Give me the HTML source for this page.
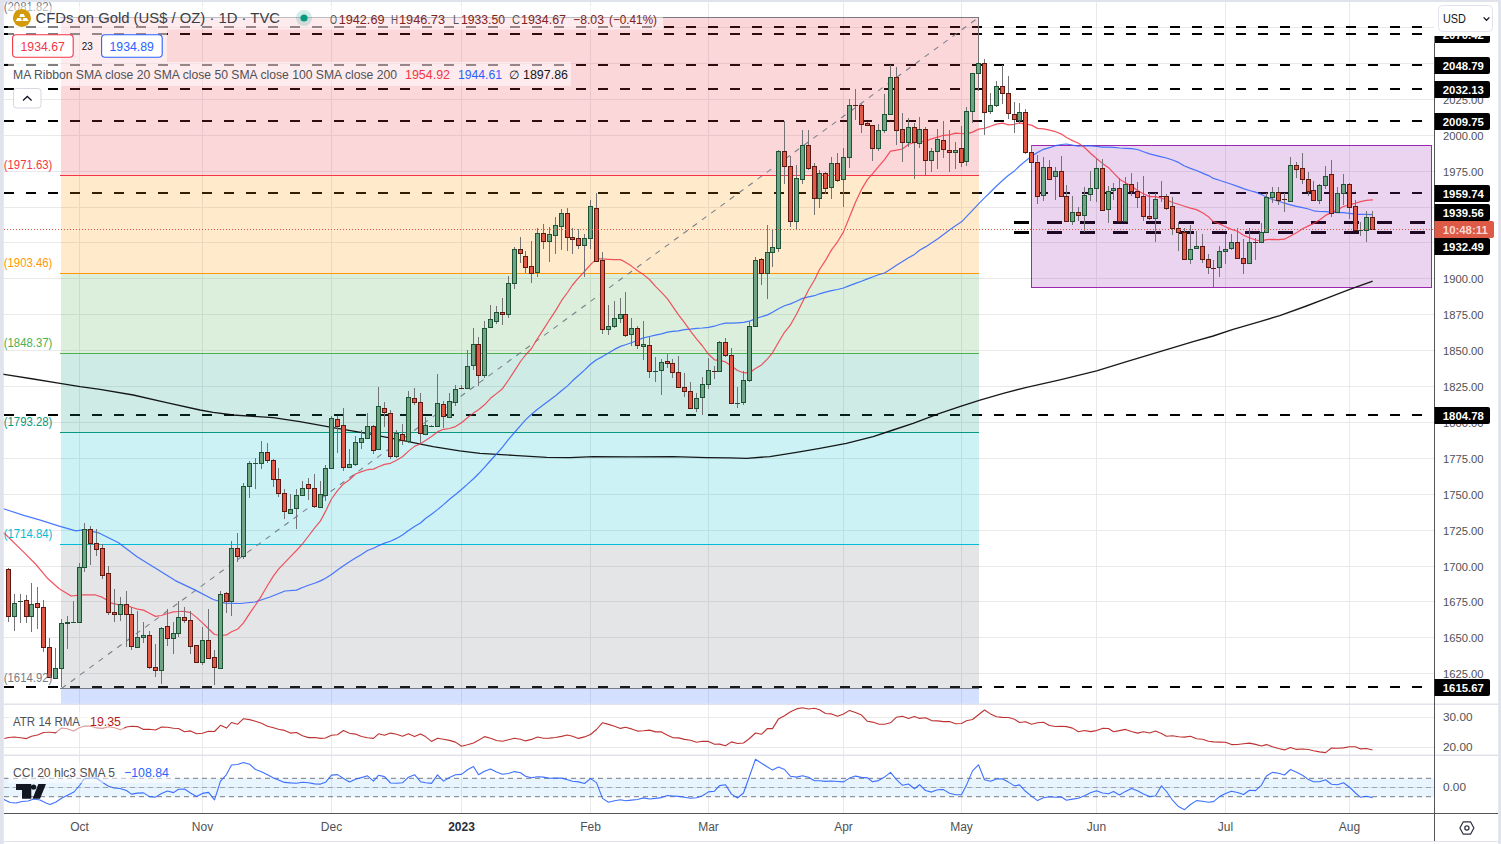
<!DOCTYPE html>
<html><head><meta charset="utf-8"><title>Gold chart</title>
<style>
html,body{margin:0;padding:0;background:#fff;}
body{width:1501px;height:844px;overflow:hidden;font-family:"Liberation Sans",sans-serif;}
svg{display:block;position:absolute;left:0;top:0;}
text{font-family:"Liberation Sans",sans-serif;}
</style></head><body>
<svg width="1501" height="844" viewBox="0 0 1501 844" shape-rendering="auto">

<rect x="0" y="0" width="1501" height="844" fill="#e0e3eb"/>
<path d="M3.8 5 Q3.8 1.9 7 1.9 H1494.2 Q1498.2 1.9 1498.2 6 V844 H3.8 Z" fill="#ffffff"/>
<rect x="3.8" y="841" width="1494.4" height="1" fill="#e0e3eb"/>
<g id="grid" stroke="#e9e9ea" stroke-width="1" shape-rendering="crispEdges">
<line x1="79.5" y1="2" x2="79.5" y2="813"/>
<line x1="202.5" y1="2" x2="202.5" y2="813"/>
<line x1="331.5" y1="2" x2="331.5" y2="813"/>
<line x1="461.5" y1="2" x2="461.5" y2="813"/>
<line x1="590.5" y1="2" x2="590.5" y2="813"/>
<line x1="708.5" y1="2" x2="708.5" y2="813"/>
<line x1="843.5" y1="2" x2="843.5" y2="813"/>
<line x1="961.5" y1="2" x2="961.5" y2="813"/>
<line x1="1096.5" y1="2" x2="1096.5" y2="813"/>
<line x1="1225.5" y1="2" x2="1225.5" y2="813"/>
<line x1="1349.5" y1="2" x2="1349.5" y2="813"/>
<line x1="4" y1="27.5" x2="1434" y2="27.5"/>
<line x1="4" y1="63.5" x2="1434" y2="63.5"/>
<line x1="4" y1="99.5" x2="1434" y2="99.5"/>
<line x1="4" y1="135.5" x2="1434" y2="135.5"/>
<line x1="4" y1="171.5" x2="1434" y2="171.5"/>
<line x1="4" y1="207.5" x2="1434" y2="207.5"/>
<line x1="4" y1="242.5" x2="1434" y2="242.5"/>
<line x1="4" y1="278.5" x2="1434" y2="278.5"/>
<line x1="4" y1="314.5" x2="1434" y2="314.5"/>
<line x1="4" y1="350.5" x2="1434" y2="350.5"/>
<line x1="4" y1="386.5" x2="1434" y2="386.5"/>
<line x1="4" y1="422.5" x2="1434" y2="422.5"/>
<line x1="4" y1="458.5" x2="1434" y2="458.5"/>
<line x1="4" y1="494.5" x2="1434" y2="494.5"/>
<line x1="4" y1="530.5" x2="1434" y2="530.5"/>
<line x1="4" y1="566.5" x2="1434" y2="566.5"/>
<line x1="4" y1="601.5" x2="1434" y2="601.5"/>
<line x1="4" y1="637.5" x2="1434" y2="637.5"/>
<line x1="4" y1="673.5" x2="1434" y2="673.5"/>
<line x1="4" y1="717.5" x2="1434" y2="717.5"/>
<line x1="4" y1="747.5" x2="1434" y2="747.5"/>
<line x1="4" y1="787.5" x2="1434" y2="787.5"/>
</g>
<g id="hlines" stroke="#000" stroke-width="2" stroke-dasharray="10 12" shape-rendering="crispEdges">
<line x1="4.3" y1="27" x2="1434" y2="27"/>
<line x1="4.3" y1="34" x2="1434" y2="34"/>
<line x1="4.3" y1="65" x2="1434" y2="65"/>
<line x1="4.3" y1="89" x2="1434" y2="89"/>
<line x1="4.3" y1="121" x2="1434" y2="121"/>
<line x1="4.3" y1="193" x2="1434" y2="193"/>
<line x1="4.3" y1="415" x2="1434" y2="415"/>
<line x1="4.3" y1="687" x2="1434" y2="687"/>
</g>
<g id="fib">
<rect x="61.0" y="17.50" width="918.0" height="158.00" fill="#f23645" fill-opacity="0.2"/>
<rect x="61.0" y="175.50" width="918.0" height="98.00" fill="#ff9800" fill-opacity="0.2"/>
<rect x="61.0" y="273.50" width="918.0" height="80.00" fill="#4caf50" fill-opacity="0.2"/>
<rect x="61.0" y="353.50" width="918.0" height="79.00" fill="#089981" fill-opacity="0.2"/>
<rect x="61.0" y="432.50" width="918.0" height="112.00" fill="#00bcd4" fill-opacity="0.2"/>
<rect x="61.0" y="544.50" width="918.0" height="144.00" fill="#787b86" fill-opacity="0.2"/>
<rect x="61.0" y="688.50" width="918.0" height="15.50" fill="#2962ff" fill-opacity="0.2"/>
<line x1="60.0" y1="17.50" x2="979.0" y2="17.50" stroke="#787b86" stroke-width="1" shape-rendering="crispEdges"/>
<line x1="60.0" y1="175.50" x2="979.0" y2="175.50" stroke="#f23645" stroke-width="1" shape-rendering="crispEdges"/>
<line x1="60.0" y1="273.50" x2="979.0" y2="273.50" stroke="#ff9800" stroke-width="1" shape-rendering="crispEdges"/>
<line x1="60.0" y1="353.50" x2="979.0" y2="353.50" stroke="#4caf50" stroke-width="1" shape-rendering="crispEdges"/>
<line x1="60.0" y1="432.50" x2="979.0" y2="432.50" stroke="#089981" stroke-width="1" shape-rendering="crispEdges"/>
<line x1="60.0" y1="544.50" x2="979.0" y2="544.50" stroke="#00bcd4" stroke-width="1" shape-rendering="crispEdges"/>
<line x1="60.0" y1="688.50" x2="979.0" y2="688.50" stroke="#787b86" stroke-width="1" shape-rendering="crispEdges"/>
<line x1="61.5" y1="688.50" x2="978.5" y2="17.50" stroke="#79808a" stroke-width="1.08" stroke-dasharray="5.5 6"/>
</g>
<g stroke="#e0e3eb" stroke-width="1.6"><line x1="4" y1="704.3" x2="1498" y2="704.3"/><line x1="4" y1="755.3" x2="1498" y2="755.3"/></g>
<rect x="4" y="778.3" width="1430" height="18.4" fill="#2196f3" fill-opacity="0.1"/>
<g stroke="#787b86" stroke-width="1" stroke-dasharray="5 4"><line x1="4" y1="778.3" x2="1434" y2="778.3"/><line x1="4" y1="787.5" x2="1434" y2="787.5" stroke-opacity="0.6"/><line x1="4" y1="796.7" x2="1434" y2="796.7"/></g>
<g stroke="#000" stroke-width="3" stroke-dasharray="15 18" shape-rendering="crispEdges">
<line x1="1014" y1="222.5" x2="1434" y2="222.5"/>
<line x1="1014" y1="232.5" x2="1434" y2="232.5"/>
</g>
<rect x="1031.5" y="145.5" width="400" height="142" fill="#9c27b0" fill-opacity="0.2" stroke="#9c27b0" stroke-width="1" shape-rendering="crispEdges"/>
<g fill="none" stroke-linejoin="round" stroke-linecap="round">
<path d="M4.0 374.3 L33.3 379.0 L60.0 383.3 L80.0 386.6 L100.0 389.3 L133.2 395.0 L166.6 402.6 L199.9 410.0 L213.2 412.3 L233.2 415.0 L253.2 416.3 L273.2 417.6 L299.8 421.6 L333.1 427.6 L366.4 433.3 L399.7 439.9 L433.0 446.6 L459.7 450.9 L480.0 453.3 L513.3 455.3 L546.6 457.3 L569.9 457.6 L593.3 456.6 L629.9 456.9 L673.2 456.6 L706.5 457.6 L729.8 457.9 L746.5 458.3 L769.8 456.6 L796.5 452.3 L819.8 448.3 L846.4 443.3 L873.1 436.6 L893.1 430.0 L913.1 423.3 L939.7 413.3 L959.7 406.6 L980.0 400.2 L1003.3 393.3 L1026.6 387.3 L1059.9 379.9 L1096.6 370.9 L1126.6 361.6 L1159.9 351.6 L1193.2 341.6 L1213.2 336.0 L1233.1 329.3 L1259.8 321.6 L1279.8 315.6 L1306.4 306.0 L1326.4 298.3 L1349.7 289.3 L1372.1 281.3" stroke="#000" stroke-width="1.35" stroke-opacity="0.9"/>
<path d="M4.3 509.0 L23.7 515.4 L40.3 520.1 L59.2 526.1 L75.8 530.8 L85.3 529.6 L99.5 533.2 L118.5 542.7 L137.4 556.9 L156.4 568.7 L175.3 580.6 L194.3 589.6 L213.3 599.5 L225.1 603.1 L240.0 603.5 L255.0 602.0 L270.0 597.0 L285.0 591.0 L296.5 590.1 L302.5 587.5 L308.5 585.2 L314.5 583.3 L320.5 580.9 L325.5 578.2 L331.5 574.4 L337.5 570.0 L343.5 565.8 L349.5 561.7 L355.5 558.1 L361.5 554.4 L367.5 550.5 L373.5 548.2 L378.5 545.7 L384.5 543.1 L390.5 541.2 L396.5 538.4 L402.5 535.0 L408.5 530.6 L414.5 526.6 L420.5 523.0 L425.5 518.5 L431.5 514.3 L437.5 509.6 L443.5 504.6 L449.5 499.2 L455.5 494.5 L461.5 489.5 L467.5 484.1 L473.5 478.7 L478.5 473.8 L484.5 467.4 L490.5 460.5 L496.5 454.0 L502.5 447.1 L508.5 439.4 L514.5 432.5 L520.5 425.6 L525.5 419.9 L531.5 414.3 L537.5 409.2 L543.5 404.8 L549.5 400.2 L555.5 395.7 L561.5 390.7 L567.5 385.9 L572.5 380.8 L578.5 375.5 L584.5 370.1 L590.5 364.3 L596.5 359.7 L602.5 356.6 L608.5 353.0 L614.5 349.4 L620.5 346.4 L625.5 344.7 L631.5 342.7 L637.5 340.3 L643.5 337.9 L649.5 336.5 L655.5 335.1 L661.5 333.9 L667.5 332.1 L672.5 331.4 L678.5 330.9 L684.5 329.6 L690.5 329.2 L696.5 328.3 L702.5 328.0 L708.5 327.4 L714.5 326.2 L719.5 324.5 L725.5 323.1 L731.5 323.1 L737.5 322.8 L743.5 322.4 L749.5 321.2 L755.5 318.6 L761.5 316.7 L767.5 314.9 L772.5 312.3 L778.5 308.8 L784.5 305.7 L790.5 303.9 L796.5 301.2 L802.5 298.4 L808.5 296.8 L814.5 295.7 L819.5 293.8 L825.5 292.1 L831.5 290.7 L837.5 289.5 L843.5 288.0 L849.5 285.6 L855.5 283.4 L861.5 281.2 L867.5 278.9 L872.5 277.0 L878.5 274.8 L884.5 273.0 L890.5 269.3 L896.5 265.3 L902.5 261.6 L908.5 257.8 L914.5 254.4 L919.5 250.2 L925.5 246.9 L931.5 243.0 L937.5 238.9 L943.5 234.5 L949.5 230.1 L955.5 225.8 L961.5 221.8 L966.5 216.6 L972.5 210.3 L978.5 203.8 L984.5 197.8 L990.5 192.0 L996.5 186.0 L1002.5 180.5 L1008.5 175.3 L1014.5 170.9 L1019.5 166.0 L1025.5 161.0 L1031.5 156.2 L1037.5 152.5 L1043.5 149.3 L1049.5 147.7 L1055.5 145.6 L1061.5 144.5 L1066.5 144.0 L1072.5 145.2 L1078.5 146.2 L1084.5 145.7 L1090.5 145.9 L1096.5 146.3 L1102.5 147.2 L1108.5 147.1 L1113.5 147.4 L1119.5 148.0 L1125.5 148.4 L1131.5 148.7 L1137.5 149.5 L1143.5 151.7 L1149.5 153.9 L1155.5 155.4 L1161.5 156.8 L1166.5 158.0 L1172.5 160.0 L1178.5 162.4 L1184.5 166.0 L1190.5 168.4 L1196.5 170.5 L1202.5 173.1 L1208.5 175.6 L1213.5 178.4 L1219.5 180.2 L1225.5 182.2 L1231.5 184.2 L1237.5 186.4 L1243.5 188.6 L1249.5 190.5 L1255.5 192.1 L1261.5 194.5 L1266.5 197.0 L1272.5 199.5 L1278.5 201.3 L1284.5 203.2 L1290.5 204.8 L1296.5 206.3 L1302.5 207.6 L1308.5 209.0 L1313.5 210.8 L1319.5 211.5 L1325.5 211.7 L1331.5 212.1 L1337.5 212.6 L1343.5 212.7 L1349.5 213.4 L1355.5 214.1 L1360.5 214.3 L1366.5 214.4 L1372.5 214.7" stroke="#2962ff" stroke-width="1.2" stroke-opacity="0.85"/>
<path d="M4.3 533.2 L23.7 552.1 L35.5 564.0 L47.4 578.2 L59.2 588.8 L71.1 596.0 L82.9 594.8 L94.8 594.8 L101.9 597.1 L111.4 603.1 L120.5 605.2 L126.5 605.1 L131.5 607.3 L137.5 609.1 L143.5 610.1 L149.5 613.2 L155.5 616.4 L161.5 615.5 L167.5 613.5 L173.5 611.8 L178.5 611.5 L184.5 611.4 L190.5 612.6 L196.5 617.4 L202.5 622.9 L208.5 628.7 L214.5 634.5 L220.5 635.5 L226.5 634.9 L231.5 631.7 L237.5 629.3 L243.5 622.8 L249.5 613.7 L255.5 605.0 L261.5 595.8 L267.5 585.5 L273.5 575.9 L278.5 569.2 L284.5 562.8 L290.5 556.6 L296.5 550.5 L302.5 543.9 L308.5 536.0 L314.5 528.2 L320.5 520.9 L325.5 511.4 L331.5 499.0 L337.5 490.6 L343.5 483.9 L349.5 479.7 L355.5 474.0 L361.5 471.6 L367.5 469.7 L373.5 469.1 L378.5 466.8 L384.5 464.4 L390.5 463.3 L396.5 460.2 L402.5 456.7 L408.5 451.1 L414.5 446.4 L420.5 443.7 L425.5 440.5 L431.5 436.5 L437.5 431.9 L443.5 429.3 L449.5 428.5 L455.5 426.6 L461.5 422.7 L467.5 417.8 L473.5 412.9 L478.5 409.7 L484.5 404.8 L490.5 398.3 L496.5 393.6 L502.5 388.7 L508.5 380.0 L514.5 370.8 L520.5 361.5 L525.5 355.0 L531.5 348.5 L537.5 338.5 L543.5 329.3 L549.5 319.8 L555.5 310.9 L561.5 300.7 L567.5 292.5 L572.5 285.0 L578.5 277.9 L584.5 271.5 L590.5 264.6 L596.5 258.9 L602.5 258.9 L608.5 259.3 L614.5 259.6 L620.5 259.6 L625.5 262.2 L631.5 266.1 L637.5 270.8 L643.5 274.6 L649.5 279.5 L655.5 286.4 L661.5 292.4 L667.5 298.9 L672.5 306.2 L678.5 314.9 L684.5 322.7 L690.5 331.1 L696.5 338.8 L702.5 346.0 L708.5 354.3 L714.5 359.8 L719.5 360.4 L725.5 361.9 L731.5 366.1 L737.5 370.5 L743.5 372.8 L749.5 372.7 L755.5 368.4 L761.5 364.9 L767.5 358.9 L772.5 352.8 L778.5 342.2 L784.5 332.3 L790.5 324.8 L796.5 314.3 L802.5 302.0 L808.5 290.0 L814.5 280.0 L819.5 269.5 L825.5 260.4 L831.5 249.9 L837.5 241.8 L843.5 231.9 L849.5 217.0 L855.5 202.2 L861.5 189.4 L867.5 179.4 L872.5 173.8 L878.5 166.6 L884.5 159.7 L890.5 151.2 L896.5 150.2 L902.5 149.0 L908.5 144.3 L914.5 142.5 L919.5 141.7 L925.5 141.3 L931.5 138.9 L937.5 137.2 L943.5 135.3 L949.5 134.8 L955.5 133.2 L961.5 133.5 L966.5 133.8 L972.5 132.1 L978.5 129.1 L984.5 128.4 L990.5 126.3 L996.5 124.1 L1002.5 123.1 L1008.5 124.9 L1014.5 124.3 L1019.5 122.8 L1025.5 124.1 L1031.5 125.1 L1037.5 128.4 L1043.5 128.8 L1049.5 130.2 L1055.5 131.7 L1061.5 134.1 L1066.5 137.5 L1072.5 140.6 L1078.5 143.3 L1084.5 147.5 L1090.5 153.2 L1096.5 158.5 L1102.5 163.4 L1108.5 167.7 L1113.5 172.8 L1119.5 179.2 L1125.5 182.7 L1131.5 186.3 L1137.5 190.6 L1143.5 193.8 L1149.5 196.6 L1155.5 196.7 L1161.5 198.2 L1166.5 199.7 L1172.5 202.5 L1178.5 204.3 L1184.5 206.3 L1190.5 208.1 L1196.5 209.6 L1202.5 212.8 L1208.5 216.8 L1213.5 221.8 L1219.5 223.9 L1225.5 226.7 L1231.5 229.4 L1237.5 231.3 L1243.5 235.2 L1249.5 237.8 L1255.5 240.0 L1261.5 240.8 L1266.5 239.7 L1272.5 239.4 L1278.5 239.6 L1284.5 239.2 L1290.5 236.0 L1296.5 232.8 L1302.5 228.8 L1308.5 225.9 L1313.5 223.6 L1319.5 219.9 L1325.5 215.4 L1331.5 212.6 L1337.5 209.7 L1343.5 206.5 L1349.5 204.7 L1355.5 203.3 L1360.5 201.6 L1366.5 200.4 L1372.5 199.8" stroke="#f23645" stroke-width="1.2" stroke-opacity="0.85"/>
</g>
<g id="candles" shape-rendering="crispEdges">
<g stroke="#737375" stroke-width="1"><line x1="8.5" y1="568" x2="8.5" y2="622"/><line x1="14.5" y1="594" x2="14.5" y2="631"/><line x1="20.5" y1="594" x2="20.5" y2="623"/><line x1="26.5" y1="595" x2="26.5" y2="623"/><line x1="31.5" y1="583" x2="31.5" y2="632"/><line x1="37.5" y1="587" x2="37.5" y2="629"/><line x1="43.5" y1="600" x2="43.5" y2="652"/><line x1="49.5" y1="638" x2="49.5" y2="678"/><line x1="55.5" y1="648" x2="55.5" y2="679"/><line x1="61.5" y1="619" x2="61.5" y2="687"/><line x1="67.5" y1="616" x2="67.5" y2="649"/><line x1="73.5" y1="601" x2="73.5" y2="623"/><line x1="79.5" y1="563" x2="79.5" y2="623"/><line x1="84.5" y1="523" x2="84.5" y2="572"/><line x1="90.5" y1="526" x2="90.5" y2="565"/><line x1="96.5" y1="529" x2="96.5" y2="556"/><line x1="102.5" y1="544" x2="102.5" y2="579"/><line x1="108.5" y1="566" x2="108.5" y2="615"/><line x1="114.5" y1="589" x2="114.5" y2="622"/><line x1="120.5" y1="597" x2="120.5" y2="621"/><line x1="126.5" y1="591" x2="126.5" y2="647"/><line x1="131.5" y1="607" x2="131.5" y2="650"/><line x1="137.5" y1="611" x2="137.5" y2="648"/><line x1="143.5" y1="622" x2="143.5" y2="643"/><line x1="149.5" y1="631" x2="149.5" y2="669"/><line x1="155.5" y1="644" x2="155.5" y2="677"/><line x1="161.5" y1="627" x2="161.5" y2="684"/><line x1="167.5" y1="609" x2="167.5" y2="646"/><line x1="173.5" y1="622" x2="173.5" y2="654"/><line x1="178.5" y1="601" x2="178.5" y2="637"/><line x1="184.5" y1="607" x2="184.5" y2="623"/><line x1="190.5" y1="611" x2="190.5" y2="654"/><line x1="196.5" y1="645" x2="196.5" y2="663"/><line x1="202.5" y1="627" x2="202.5" y2="665"/><line x1="208.5" y1="609" x2="208.5" y2="659"/><line x1="214.5" y1="650" x2="214.5" y2="685"/><line x1="220.5" y1="591" x2="220.5" y2="669"/><line x1="226.5" y1="592" x2="226.5" y2="613"/><line x1="231.5" y1="541" x2="231.5" y2="616"/><line x1="237.5" y1="533" x2="237.5" y2="562"/><line x1="243.5" y1="483" x2="243.5" y2="559"/><line x1="249.5" y1="461" x2="249.5" y2="498"/><line x1="255.5" y1="458" x2="255.5" y2="489"/><line x1="261.5" y1="441" x2="261.5" y2="469"/><line x1="267.5" y1="443" x2="267.5" y2="463"/><line x1="273.5" y1="459" x2="273.5" y2="487"/><line x1="278.5" y1="468" x2="278.5" y2="497"/><line x1="284.5" y1="489" x2="284.5" y2="519"/><line x1="290.5" y1="494" x2="290.5" y2="514"/><line x1="296.5" y1="489" x2="296.5" y2="529"/><line x1="302.5" y1="481" x2="302.5" y2="496"/><line x1="308.5" y1="478" x2="308.5" y2="500"/><line x1="314.5" y1="474" x2="314.5" y2="508"/><line x1="320.5" y1="481" x2="320.5" y2="508"/><line x1="325.5" y1="465" x2="325.5" y2="501"/><line x1="331.5" y1="416" x2="331.5" y2="469"/><line x1="337.5" y1="416" x2="337.5" y2="453"/><line x1="343.5" y1="408" x2="343.5" y2="471"/><line x1="349.5" y1="449" x2="349.5" y2="468"/><line x1="355.5" y1="436" x2="355.5" y2="466"/><line x1="361.5" y1="430" x2="361.5" y2="449"/><line x1="367.5" y1="413" x2="367.5" y2="439"/><line x1="373.5" y1="425" x2="373.5" y2="454"/><line x1="378.5" y1="387" x2="378.5" y2="450"/><line x1="384.5" y1="402" x2="384.5" y2="427"/><line x1="390.5" y1="410" x2="390.5" y2="459"/><line x1="396.5" y1="430" x2="396.5" y2="458"/><line x1="402.5" y1="424" x2="402.5" y2="445"/><line x1="408.5" y1="391" x2="408.5" y2="443"/><line x1="414.5" y1="388" x2="414.5" y2="405"/><line x1="420.5" y1="393" x2="420.5" y2="443"/><line x1="425.5" y1="417" x2="425.5" y2="435"/><line x1="431.5" y1="425" x2="431.5" y2="427"/><line x1="437.5" y1="374" x2="437.5" y2="427"/><line x1="443.5" y1="401" x2="443.5" y2="428"/><line x1="449.5" y1="393" x2="449.5" y2="418"/><line x1="455.5" y1="385" x2="455.5" y2="406"/><line x1="461.5" y1="385" x2="461.5" y2="389"/><line x1="467.5" y1="350" x2="467.5" y2="389"/><line x1="473.5" y1="328" x2="473.5" y2="370"/><line x1="478.5" y1="337" x2="478.5" y2="386"/><line x1="484.5" y1="321" x2="484.5" y2="378"/><line x1="490.5" y1="305" x2="490.5" y2="328"/><line x1="496.5" y1="306" x2="496.5" y2="324"/><line x1="502.5" y1="298" x2="502.5" y2="325"/><line x1="508.5" y1="276" x2="508.5" y2="318"/><line x1="514.5" y1="247" x2="514.5" y2="289"/><line x1="520.5" y1="237" x2="520.5" y2="263"/><line x1="525.5" y1="251" x2="525.5" y2="273"/><line x1="531.5" y1="241" x2="531.5" y2="283"/><line x1="537.5" y1="228" x2="537.5" y2="277"/><line x1="543.5" y1="224" x2="543.5" y2="249"/><line x1="549.5" y1="227" x2="549.5" y2="262"/><line x1="555.5" y1="217" x2="555.5" y2="254"/><line x1="561.5" y1="209" x2="561.5" y2="250"/><line x1="567.5" y1="208" x2="567.5" y2="251"/><line x1="572.5" y1="228" x2="572.5" y2="254"/><line x1="578.5" y1="229" x2="578.5" y2="249"/><line x1="584.5" y1="234" x2="584.5" y2="277"/><line x1="590.5" y1="200" x2="590.5" y2="249"/><line x1="596.5" y1="193" x2="596.5" y2="262"/><line x1="602.5" y1="252" x2="602.5" y2="334"/><line x1="608.5" y1="305" x2="608.5" y2="335"/><line x1="614.5" y1="301" x2="614.5" y2="328"/><line x1="620.5" y1="298" x2="620.5" y2="323"/><line x1="625.5" y1="292" x2="625.5" y2="337"/><line x1="631.5" y1="318" x2="631.5" y2="346"/><line x1="637.5" y1="326" x2="637.5" y2="349"/><line x1="643.5" y1="321" x2="643.5" y2="360"/><line x1="649.5" y1="337" x2="649.5" y2="378"/><line x1="655.5" y1="357" x2="655.5" y2="382"/><line x1="661.5" y1="359" x2="661.5" y2="395"/><line x1="667.5" y1="354" x2="667.5" y2="368"/><line x1="672.5" y1="359" x2="672.5" y2="378"/><line x1="678.5" y1="356" x2="678.5" y2="388"/><line x1="684.5" y1="373" x2="684.5" y2="397"/><line x1="690.5" y1="382" x2="690.5" y2="409"/><line x1="696.5" y1="393" x2="696.5" y2="412"/><line x1="702.5" y1="377" x2="702.5" y2="415"/><line x1="708.5" y1="358" x2="708.5" y2="389"/><line x1="714.5" y1="366" x2="714.5" y2="379"/><line x1="719.5" y1="341" x2="719.5" y2="372"/><line x1="725.5" y1="338" x2="725.5" y2="357"/><line x1="731.5" y1="348" x2="731.5" y2="404"/><line x1="737.5" y1="387" x2="737.5" y2="408"/><line x1="743.5" y1="371" x2="743.5" y2="405"/><line x1="749.5" y1="321" x2="749.5" y2="382"/><line x1="755.5" y1="257" x2="755.5" y2="327"/><line x1="761.5" y1="258" x2="761.5" y2="285"/><line x1="767.5" y1="225" x2="767.5" y2="299"/><line x1="772.5" y1="230" x2="772.5" y2="267"/><line x1="778.5" y1="150" x2="778.5" y2="252"/><line x1="784.5" y1="121" x2="784.5" y2="184"/><line x1="790.5" y1="156" x2="790.5" y2="227"/><line x1="796.5" y1="165" x2="796.5" y2="229"/><line x1="802.5" y1="130" x2="802.5" y2="184"/><line x1="808.5" y1="130" x2="808.5" y2="170"/><line x1="814.5" y1="163" x2="814.5" y2="215"/><line x1="819.5" y1="170" x2="819.5" y2="208"/><line x1="825.5" y1="172" x2="825.5" y2="194"/><line x1="831.5" y1="157" x2="831.5" y2="199"/><line x1="837.5" y1="153" x2="837.5" y2="182"/><line x1="843.5" y1="148" x2="843.5" y2="207"/><line x1="849.5" y1="99" x2="849.5" y2="168"/><line x1="855.5" y1="89" x2="855.5" y2="120"/><line x1="861.5" y1="104" x2="861.5" y2="133"/><line x1="867.5" y1="122" x2="867.5" y2="126"/><line x1="872.5" y1="125" x2="872.5" y2="161"/><line x1="878.5" y1="124" x2="878.5" y2="151"/><line x1="884.5" y1="94" x2="884.5" y2="133"/><line x1="890.5" y1="65" x2="890.5" y2="115"/><line x1="896.5" y1="67" x2="896.5" y2="145"/><line x1="902.5" y1="113" x2="902.5" y2="162"/><line x1="908.5" y1="118" x2="908.5" y2="147"/><line x1="914.5" y1="123" x2="914.5" y2="179"/><line x1="919.5" y1="117" x2="919.5" y2="148"/><line x1="925.5" y1="127" x2="925.5" y2="175"/><line x1="931.5" y1="148" x2="931.5" y2="172"/><line x1="937.5" y1="129" x2="937.5" y2="169"/><line x1="943.5" y1="121" x2="943.5" y2="158"/><line x1="949.5" y1="130" x2="949.5" y2="172"/><line x1="955.5" y1="142" x2="955.5" y2="169"/><line x1="961.5" y1="126" x2="961.5" y2="167"/><line x1="966.5" y1="107" x2="966.5" y2="166"/><line x1="972.5" y1="73" x2="972.5" y2="123"/><line x1="978.5" y1="17" x2="978.5" y2="91"/><line x1="984.5" y1="59" x2="984.5" y2="135"/><line x1="990.5" y1="93" x2="990.5" y2="114"/><line x1="996.5" y1="81" x2="996.5" y2="107"/><line x1="1002.5" y1="65" x2="1002.5" y2="104"/><line x1="1008.5" y1="76" x2="1008.5" y2="119"/><line x1="1014.5" y1="102" x2="1014.5" y2="133"/><line x1="1019.5" y1="103" x2="1019.5" y2="124"/><line x1="1025.5" y1="109" x2="1025.5" y2="154"/><line x1="1031.5" y1="145" x2="1031.5" y2="170"/><line x1="1037.5" y1="155" x2="1037.5" y2="204"/><line x1="1043.5" y1="157" x2="1043.5" y2="201"/><line x1="1049.5" y1="160" x2="1049.5" y2="180"/><line x1="1055.5" y1="167" x2="1055.5" y2="200"/><line x1="1061.5" y1="156" x2="1061.5" y2="197"/><line x1="1066.5" y1="185" x2="1066.5" y2="222"/><line x1="1072.5" y1="196" x2="1072.5" y2="225"/><line x1="1078.5" y1="207" x2="1078.5" y2="221"/><line x1="1084.5" y1="187" x2="1084.5" y2="232"/><line x1="1090.5" y1="171" x2="1090.5" y2="201"/><line x1="1096.5" y1="159" x2="1096.5" y2="202"/><line x1="1102.5" y1="159" x2="1102.5" y2="211"/><line x1="1108.5" y1="186" x2="1108.5" y2="223"/><line x1="1113.5" y1="183" x2="1113.5" y2="200"/><line x1="1119.5" y1="178" x2="1119.5" y2="222"/><line x1="1125.5" y1="177" x2="1125.5" y2="222"/><line x1="1131.5" y1="173" x2="1131.5" y2="196"/><line x1="1137.5" y1="182" x2="1137.5" y2="208"/><line x1="1143.5" y1="176" x2="1143.5" y2="221"/><line x1="1149.5" y1="193" x2="1149.5" y2="220"/><line x1="1155.5" y1="193" x2="1155.5" y2="242"/><line x1="1161.5" y1="181" x2="1161.5" y2="202"/><line x1="1166.5" y1="194" x2="1166.5" y2="210"/><line x1="1172.5" y1="197" x2="1172.5" y2="235"/><line x1="1178.5" y1="222" x2="1178.5" y2="251"/><line x1="1184.5" y1="228" x2="1184.5" y2="260"/><line x1="1190.5" y1="225" x2="1190.5" y2="264"/><line x1="1196.5" y1="231" x2="1196.5" y2="249"/><line x1="1202.5" y1="234" x2="1202.5" y2="263"/><line x1="1208.5" y1="254" x2="1208.5" y2="274"/><line x1="1213.5" y1="260" x2="1213.5" y2="287"/><line x1="1219.5" y1="246" x2="1219.5" y2="277"/><line x1="1225.5" y1="234" x2="1225.5" y2="264"/><line x1="1231.5" y1="234" x2="1231.5" y2="250"/><line x1="1237.5" y1="228" x2="1237.5" y2="259"/><line x1="1243.5" y1="239" x2="1243.5" y2="274"/><line x1="1249.5" y1="228" x2="1249.5" y2="264"/><line x1="1255.5" y1="238" x2="1255.5" y2="260"/><line x1="1261.5" y1="223" x2="1261.5" y2="243"/><line x1="1266.5" y1="193" x2="1266.5" y2="233"/><line x1="1272.5" y1="187" x2="1272.5" y2="203"/><line x1="1278.5" y1="187" x2="1278.5" y2="205"/><line x1="1284.5" y1="193" x2="1284.5" y2="212"/><line x1="1290.5" y1="157" x2="1290.5" y2="202"/><line x1="1296.5" y1="162" x2="1296.5" y2="178"/><line x1="1302.5" y1="153" x2="1302.5" y2="184"/><line x1="1308.5" y1="172" x2="1308.5" y2="196"/><line x1="1313.5" y1="181" x2="1313.5" y2="201"/><line x1="1319.5" y1="184" x2="1319.5" y2="204"/><line x1="1325.5" y1="166" x2="1325.5" y2="189"/><line x1="1331.5" y1="160" x2="1331.5" y2="217"/><line x1="1337.5" y1="187" x2="1337.5" y2="213"/><line x1="1343.5" y1="174" x2="1343.5" y2="205"/><line x1="1349.5" y1="183" x2="1349.5" y2="219"/><line x1="1355.5" y1="200" x2="1355.5" y2="231"/><line x1="1360.5" y1="222" x2="1360.5" y2="236"/><line x1="1366.5" y1="211" x2="1366.5" y2="242"/><line x1="1372.5" y1="211" x2="1372.5" y2="230"/></g>
<rect x="6.5" y="569.5" width="4" height="47" fill="#e05848" stroke="#5a1a12" stroke-width="1"/><rect x="12.5" y="603.5" width="4" height="13" fill="#6fa585" stroke="#1d5235" stroke-width="1"/><rect x="18.0" y="601" width="5" height="1" fill="#1d5235"/><rect x="24.5" y="600.5" width="4" height="16" fill="#e05848" stroke="#5a1a12" stroke-width="1"/><rect x="29.5" y="604.5" width="4" height="12" fill="#6fa585" stroke="#1d5235" stroke-width="1"/><rect x="35.5" y="603.5" width="4" height="4" fill="#e05848" stroke="#5a1a12" stroke-width="1"/><rect x="41.5" y="607.5" width="4" height="40" fill="#e05848" stroke="#5a1a12" stroke-width="1"/><rect x="47.5" y="647.5" width="4" height="30" fill="#e05848" stroke="#5a1a12" stroke-width="1"/><rect x="53.5" y="668.5" width="4" height="10" fill="#6fa585" stroke="#1d5235" stroke-width="1"/><rect x="59.5" y="623.5" width="4" height="45" fill="#6fa585" stroke="#1d5235" stroke-width="1"/><rect x="65.0" y="622" width="5" height="2" fill="#1d5235"/><rect x="71.0" y="622" width="5" height="1" fill="#1d5235"/><rect x="77.5" y="567.5" width="4" height="55" fill="#6fa585" stroke="#1d5235" stroke-width="1"/><rect x="82.5" y="529.5" width="4" height="38" fill="#6fa585" stroke="#1d5235" stroke-width="1"/><rect x="88.5" y="529.5" width="4" height="14" fill="#e05848" stroke="#5a1a12" stroke-width="1"/><rect x="94.5" y="543.5" width="4" height="6" fill="#e05848" stroke="#5a1a12" stroke-width="1"/><rect x="100.5" y="548.5" width="4" height="27" fill="#e05848" stroke="#5a1a12" stroke-width="1"/><rect x="106.5" y="573.5" width="4" height="39" fill="#e05848" stroke="#5a1a12" stroke-width="1"/><rect x="112.5" y="612.5" width="4" height="2" fill="#e05848" stroke="#5a1a12" stroke-width="1"/><rect x="118.5" y="604.5" width="4" height="10" fill="#6fa585" stroke="#1d5235" stroke-width="1"/><rect x="124.5" y="604.5" width="4" height="10" fill="#e05848" stroke="#5a1a12" stroke-width="1"/><rect x="129.5" y="614.5" width="4" height="32" fill="#e05848" stroke="#5a1a12" stroke-width="1"/><rect x="135.5" y="637.5" width="4" height="10" fill="#6fa585" stroke="#1d5235" stroke-width="1"/><rect x="141.5" y="635.5" width="4" height="2" fill="#6fa585" stroke="#1d5235" stroke-width="1"/><rect x="147.5" y="635.5" width="4" height="32" fill="#e05848" stroke="#5a1a12" stroke-width="1"/><rect x="153.5" y="667.5" width="4" height="3" fill="#e05848" stroke="#5a1a12" stroke-width="1"/><rect x="159.5" y="628.5" width="4" height="42" fill="#6fa585" stroke="#1d5235" stroke-width="1"/><rect x="165.5" y="626.5" width="4" height="12" fill="#e05848" stroke="#5a1a12" stroke-width="1"/><rect x="171.5" y="633.5" width="4" height="5" fill="#6fa585" stroke="#1d5235" stroke-width="1"/><rect x="176.5" y="617.5" width="4" height="16" fill="#6fa585" stroke="#1d5235" stroke-width="1"/><rect x="182.5" y="617.5" width="4" height="3" fill="#e05848" stroke="#5a1a12" stroke-width="1"/><rect x="188.5" y="620.5" width="4" height="26" fill="#e05848" stroke="#5a1a12" stroke-width="1"/><rect x="194.5" y="645.5" width="4" height="17" fill="#e05848" stroke="#5a1a12" stroke-width="1"/><rect x="200.5" y="640.5" width="4" height="22" fill="#6fa585" stroke="#1d5235" stroke-width="1"/><rect x="206.5" y="640.5" width="4" height="18" fill="#e05848" stroke="#5a1a12" stroke-width="1"/><rect x="212.5" y="657.5" width="4" height="10" fill="#e05848" stroke="#5a1a12" stroke-width="1"/><rect x="218.5" y="594.5" width="4" height="74" fill="#6fa585" stroke="#1d5235" stroke-width="1"/><rect x="224.5" y="593.5" width="4" height="8" fill="#e05848" stroke="#5a1a12" stroke-width="1"/><rect x="229.5" y="548.5" width="4" height="53" fill="#6fa585" stroke="#1d5235" stroke-width="1"/><rect x="235.5" y="548.5" width="4" height="8" fill="#e05848" stroke="#5a1a12" stroke-width="1"/><rect x="241.5" y="486.5" width="4" height="70" fill="#6fa585" stroke="#1d5235" stroke-width="1"/><rect x="247.5" y="463.5" width="4" height="23" fill="#6fa585" stroke="#1d5235" stroke-width="1"/><rect x="253.0" y="463" width="5" height="1" fill="#1d5235"/><rect x="259.5" y="452.5" width="4" height="11" fill="#6fa585" stroke="#1d5235" stroke-width="1"/><rect x="265.5" y="452.5" width="4" height="8" fill="#e05848" stroke="#5a1a12" stroke-width="1"/><rect x="271.5" y="460.5" width="4" height="19" fill="#e05848" stroke="#5a1a12" stroke-width="1"/><rect x="276.5" y="479.5" width="4" height="14" fill="#e05848" stroke="#5a1a12" stroke-width="1"/><rect x="282.5" y="493.5" width="4" height="18" fill="#e05848" stroke="#5a1a12" stroke-width="1"/><rect x="288.5" y="509.5" width="4" height="4" fill="#6fa585" stroke="#1d5235" stroke-width="1"/><rect x="294.5" y="495.5" width="4" height="13" fill="#6fa585" stroke="#1d5235" stroke-width="1"/><rect x="300.5" y="488.5" width="4" height="7" fill="#6fa585" stroke="#1d5235" stroke-width="1"/><rect x="306.5" y="484.5" width="4" height="4" fill="#e05848" stroke="#5a1a12" stroke-width="1"/><rect x="312.5" y="488.5" width="4" height="18" fill="#e05848" stroke="#5a1a12" stroke-width="1"/><rect x="318.5" y="494.5" width="4" height="13" fill="#6fa585" stroke="#1d5235" stroke-width="1"/><rect x="323.5" y="468.5" width="4" height="27" fill="#6fa585" stroke="#1d5235" stroke-width="1"/><rect x="329.5" y="418.5" width="4" height="50" fill="#6fa585" stroke="#1d5235" stroke-width="1"/><rect x="335.5" y="419.5" width="4" height="7" fill="#e05848" stroke="#5a1a12" stroke-width="1"/><rect x="341.5" y="425.5" width="4" height="42" fill="#e05848" stroke="#5a1a12" stroke-width="1"/><rect x="347.5" y="464.5" width="4" height="3" fill="#6fa585" stroke="#1d5235" stroke-width="1"/><rect x="353.5" y="442.5" width="4" height="22" fill="#6fa585" stroke="#1d5235" stroke-width="1"/><rect x="359.5" y="438.5" width="4" height="4" fill="#6fa585" stroke="#1d5235" stroke-width="1"/><rect x="365.5" y="426.5" width="4" height="12" fill="#6fa585" stroke="#1d5235" stroke-width="1"/><rect x="371.5" y="426.5" width="4" height="24" fill="#e05848" stroke="#5a1a12" stroke-width="1"/><rect x="376.5" y="406.5" width="4" height="43" fill="#6fa585" stroke="#1d5235" stroke-width="1"/><rect x="382.5" y="408.5" width="4" height="4" fill="#e05848" stroke="#5a1a12" stroke-width="1"/><rect x="388.5" y="413.5" width="4" height="43" fill="#e05848" stroke="#5a1a12" stroke-width="1"/><rect x="394.5" y="433.5" width="4" height="23" fill="#6fa585" stroke="#1d5235" stroke-width="1"/><rect x="400.5" y="434.5" width="4" height="6" fill="#e05848" stroke="#5a1a12" stroke-width="1"/><rect x="406.5" y="397.5" width="4" height="44" fill="#6fa585" stroke="#1d5235" stroke-width="1"/><rect x="412.5" y="398.5" width="4" height="4" fill="#e05848" stroke="#5a1a12" stroke-width="1"/><rect x="418.5" y="402.5" width="4" height="31" fill="#e05848" stroke="#5a1a12" stroke-width="1"/><rect x="423.5" y="425.5" width="4" height="9" fill="#6fa585" stroke="#1d5235" stroke-width="1"/><rect x="429.0" y="426" width="5" height="1" fill="#1d5235"/><rect x="435.5" y="403.5" width="4" height="23" fill="#6fa585" stroke="#1d5235" stroke-width="1"/><rect x="441.5" y="404.5" width="4" height="12" fill="#e05848" stroke="#5a1a12" stroke-width="1"/><rect x="447.5" y="401.5" width="4" height="16" fill="#6fa585" stroke="#1d5235" stroke-width="1"/><rect x="453.5" y="389.5" width="4" height="13" fill="#6fa585" stroke="#1d5235" stroke-width="1"/><rect x="459.0" y="388" width="5" height="1" fill="#5a1a12"/><rect x="465.5" y="366.5" width="4" height="22" fill="#6fa585" stroke="#1d5235" stroke-width="1"/><rect x="471.5" y="344.5" width="4" height="21" fill="#6fa585" stroke="#1d5235" stroke-width="1"/><rect x="476.5" y="344.5" width="4" height="31" fill="#e05848" stroke="#5a1a12" stroke-width="1"/><rect x="482.5" y="328.5" width="4" height="47" fill="#6fa585" stroke="#1d5235" stroke-width="1"/><rect x="488.5" y="319.5" width="4" height="8" fill="#6fa585" stroke="#1d5235" stroke-width="1"/><rect x="494.5" y="312.5" width="4" height="9" fill="#6fa585" stroke="#1d5235" stroke-width="1"/><rect x="500.5" y="312.5" width="4" height="2" fill="#e05848" stroke="#5a1a12" stroke-width="1"/><rect x="506.5" y="283.5" width="4" height="31" fill="#6fa585" stroke="#1d5235" stroke-width="1"/><rect x="512.5" y="249.5" width="4" height="34" fill="#6fa585" stroke="#1d5235" stroke-width="1"/><rect x="518.5" y="249.5" width="4" height="4" fill="#e05848" stroke="#5a1a12" stroke-width="1"/><rect x="523.5" y="256.5" width="4" height="11" fill="#e05848" stroke="#5a1a12" stroke-width="1"/><rect x="529.5" y="266.5" width="4" height="7" fill="#e05848" stroke="#5a1a12" stroke-width="1"/><rect x="535.5" y="233.5" width="4" height="39" fill="#6fa585" stroke="#1d5235" stroke-width="1"/><rect x="541.5" y="233.5" width="4" height="8" fill="#e05848" stroke="#5a1a12" stroke-width="1"/><rect x="547.5" y="234.5" width="4" height="7" fill="#6fa585" stroke="#1d5235" stroke-width="1"/><rect x="553.5" y="225.5" width="4" height="10" fill="#6fa585" stroke="#1d5235" stroke-width="1"/><rect x="559.5" y="213.5" width="4" height="13" fill="#6fa585" stroke="#1d5235" stroke-width="1"/><rect x="565.5" y="213.5" width="4" height="24" fill="#e05848" stroke="#5a1a12" stroke-width="1"/><rect x="570.5" y="237.5" width="4" height="2" fill="#e05848" stroke="#5a1a12" stroke-width="1"/><rect x="576.5" y="238.5" width="4" height="7" fill="#e05848" stroke="#5a1a12" stroke-width="1"/><rect x="582.5" y="238.5" width="4" height="7" fill="#6fa585" stroke="#1d5235" stroke-width="1"/><rect x="588.5" y="206.5" width="4" height="32" fill="#6fa585" stroke="#1d5235" stroke-width="1"/><rect x="594.5" y="208.5" width="4" height="53" fill="#e05848" stroke="#5a1a12" stroke-width="1"/><rect x="600.5" y="260.5" width="4" height="69" fill="#e05848" stroke="#5a1a12" stroke-width="1"/><rect x="606.5" y="326.5" width="4" height="3" fill="#6fa585" stroke="#1d5235" stroke-width="1"/><rect x="612.5" y="318.5" width="4" height="8" fill="#6fa585" stroke="#1d5235" stroke-width="1"/><rect x="618.5" y="314.5" width="4" height="4" fill="#6fa585" stroke="#1d5235" stroke-width="1"/><rect x="623.5" y="314.5" width="4" height="21" fill="#e05848" stroke="#5a1a12" stroke-width="1"/><rect x="629.5" y="328.5" width="4" height="6" fill="#6fa585" stroke="#1d5235" stroke-width="1"/><rect x="635.5" y="328.5" width="4" height="17" fill="#e05848" stroke="#5a1a12" stroke-width="1"/><rect x="641.5" y="344.5" width="4" height="2" fill="#6fa585" stroke="#1d5235" stroke-width="1"/><rect x="647.5" y="345.5" width="4" height="26" fill="#e05848" stroke="#5a1a12" stroke-width="1"/><rect x="653.0" y="371" width="5" height="1" fill="#1d5235"/><rect x="659.5" y="362.5" width="4" height="8" fill="#6fa585" stroke="#1d5235" stroke-width="1"/><rect x="665.5" y="361.5" width="4" height="2" fill="#e05848" stroke="#5a1a12" stroke-width="1"/><rect x="670.5" y="363.5" width="4" height="9" fill="#e05848" stroke="#5a1a12" stroke-width="1"/><rect x="676.5" y="372.5" width="4" height="15" fill="#e05848" stroke="#5a1a12" stroke-width="1"/><rect x="682.5" y="387.5" width="4" height="4" fill="#e05848" stroke="#5a1a12" stroke-width="1"/><rect x="688.5" y="391.5" width="4" height="17" fill="#e05848" stroke="#5a1a12" stroke-width="1"/><rect x="694.5" y="398.5" width="4" height="10" fill="#6fa585" stroke="#1d5235" stroke-width="1"/><rect x="700.5" y="384.5" width="4" height="13" fill="#6fa585" stroke="#1d5235" stroke-width="1"/><rect x="706.5" y="370.5" width="4" height="14" fill="#6fa585" stroke="#1d5235" stroke-width="1"/><rect x="712.0" y="371" width="5" height="1" fill="#5a1a12"/><rect x="717.5" y="342.5" width="4" height="29" fill="#6fa585" stroke="#1d5235" stroke-width="1"/><rect x="723.5" y="342.5" width="4" height="13" fill="#e05848" stroke="#5a1a12" stroke-width="1"/><rect x="729.5" y="355.5" width="4" height="48" fill="#e05848" stroke="#5a1a12" stroke-width="1"/><rect x="735.0" y="403" width="5" height="1" fill="#1d5235"/><rect x="741.5" y="380.5" width="4" height="22" fill="#6fa585" stroke="#1d5235" stroke-width="1"/><rect x="747.5" y="326.5" width="4" height="54" fill="#6fa585" stroke="#1d5235" stroke-width="1"/><rect x="753.5" y="260.5" width="4" height="66" fill="#6fa585" stroke="#1d5235" stroke-width="1"/><rect x="759.5" y="259.5" width="4" height="14" fill="#e05848" stroke="#5a1a12" stroke-width="1"/><rect x="765.5" y="252.5" width="4" height="21" fill="#6fa585" stroke="#1d5235" stroke-width="1"/><rect x="770.5" y="247.5" width="4" height="5" fill="#6fa585" stroke="#1d5235" stroke-width="1"/><rect x="776.5" y="151.5" width="4" height="97" fill="#6fa585" stroke="#1d5235" stroke-width="1"/><rect x="782.5" y="151.5" width="4" height="15" fill="#e05848" stroke="#5a1a12" stroke-width="1"/><rect x="788.5" y="166.5" width="4" height="55" fill="#e05848" stroke="#5a1a12" stroke-width="1"/><rect x="794.5" y="178.5" width="4" height="43" fill="#6fa585" stroke="#1d5235" stroke-width="1"/><rect x="800.5" y="145.5" width="4" height="34" fill="#6fa585" stroke="#1d5235" stroke-width="1"/><rect x="806.5" y="145.5" width="4" height="23" fill="#e05848" stroke="#5a1a12" stroke-width="1"/><rect x="812.5" y="166.5" width="4" height="32" fill="#e05848" stroke="#5a1a12" stroke-width="1"/><rect x="817.5" y="173.5" width="4" height="25" fill="#6fa585" stroke="#1d5235" stroke-width="1"/><rect x="823.5" y="173.5" width="4" height="15" fill="#e05848" stroke="#5a1a12" stroke-width="1"/><rect x="829.5" y="163.5" width="4" height="24" fill="#6fa585" stroke="#1d5235" stroke-width="1"/><rect x="835.5" y="163.5" width="4" height="17" fill="#e05848" stroke="#5a1a12" stroke-width="1"/><rect x="841.5" y="157.5" width="4" height="22" fill="#6fa585" stroke="#1d5235" stroke-width="1"/><rect x="847.5" y="105.5" width="4" height="52" fill="#6fa585" stroke="#1d5235" stroke-width="1"/><rect x="853.0" y="105" width="5" height="1" fill="#5a1a12"/><rect x="859.5" y="105.5" width="4" height="19" fill="#e05848" stroke="#5a1a12" stroke-width="1"/><rect x="865.5" y="123.5" width="4" height="2" fill="#e05848" stroke="#5a1a12" stroke-width="1"/><rect x="870.5" y="125.5" width="4" height="23" fill="#e05848" stroke="#5a1a12" stroke-width="1"/><rect x="876.5" y="130.5" width="4" height="18" fill="#6fa585" stroke="#1d5235" stroke-width="1"/><rect x="882.5" y="114.5" width="4" height="16" fill="#6fa585" stroke="#1d5235" stroke-width="1"/><rect x="888.5" y="77.5" width="4" height="37" fill="#6fa585" stroke="#1d5235" stroke-width="1"/><rect x="894.5" y="77.5" width="4" height="53" fill="#e05848" stroke="#5a1a12" stroke-width="1"/><rect x="900.5" y="129.5" width="4" height="13" fill="#e05848" stroke="#5a1a12" stroke-width="1"/><rect x="906.5" y="127.5" width="4" height="15" fill="#6fa585" stroke="#1d5235" stroke-width="1"/><rect x="912.5" y="127.5" width="4" height="15" fill="#e05848" stroke="#5a1a12" stroke-width="1"/><rect x="917.5" y="129.5" width="4" height="14" fill="#6fa585" stroke="#1d5235" stroke-width="1"/><rect x="923.5" y="129.5" width="4" height="31" fill="#e05848" stroke="#5a1a12" stroke-width="1"/><rect x="929.5" y="151.5" width="4" height="9" fill="#6fa585" stroke="#1d5235" stroke-width="1"/><rect x="935.5" y="139.5" width="4" height="12" fill="#6fa585" stroke="#1d5235" stroke-width="1"/><rect x="941.5" y="140.5" width="4" height="9" fill="#e05848" stroke="#5a1a12" stroke-width="1"/><rect x="947.5" y="150.5" width="4" height="2" fill="#e05848" stroke="#5a1a12" stroke-width="1"/><rect x="953.5" y="150.5" width="4" height="2" fill="#6fa585" stroke="#1d5235" stroke-width="1"/><rect x="959.5" y="148.5" width="4" height="14" fill="#e05848" stroke="#5a1a12" stroke-width="1"/><rect x="964.5" y="111.5" width="4" height="50" fill="#6fa585" stroke="#1d5235" stroke-width="1"/><rect x="970.5" y="73.5" width="4" height="38" fill="#6fa585" stroke="#1d5235" stroke-width="1"/><rect x="976.5" y="63.5" width="4" height="10" fill="#6fa585" stroke="#1d5235" stroke-width="1"/><rect x="982.5" y="63.5" width="4" height="49" fill="#e05848" stroke="#5a1a12" stroke-width="1"/><rect x="988.5" y="105.5" width="4" height="6" fill="#6fa585" stroke="#1d5235" stroke-width="1"/><rect x="994.5" y="86.5" width="4" height="19" fill="#6fa585" stroke="#1d5235" stroke-width="1"/><rect x="1000.5" y="86.5" width="4" height="7" fill="#e05848" stroke="#5a1a12" stroke-width="1"/><rect x="1006.5" y="93.5" width="4" height="20" fill="#e05848" stroke="#5a1a12" stroke-width="1"/><rect x="1012.5" y="114.5" width="4" height="5" fill="#e05848" stroke="#5a1a12" stroke-width="1"/><rect x="1017.5" y="112.5" width="4" height="8" fill="#6fa585" stroke="#1d5235" stroke-width="1"/><rect x="1023.5" y="112.5" width="4" height="40" fill="#e05848" stroke="#5a1a12" stroke-width="1"/><rect x="1029.5" y="152.5" width="4" height="10" fill="#e05848" stroke="#5a1a12" stroke-width="1"/><rect x="1035.5" y="162.5" width="4" height="34" fill="#e05848" stroke="#5a1a12" stroke-width="1"/><rect x="1041.5" y="167.5" width="4" height="28" fill="#6fa585" stroke="#1d5235" stroke-width="1"/><rect x="1047.5" y="167.5" width="4" height="12" fill="#e05848" stroke="#5a1a12" stroke-width="1"/><rect x="1053.5" y="171.5" width="4" height="5" fill="#6fa585" stroke="#1d5235" stroke-width="1"/><rect x="1059.5" y="171.5" width="4" height="25" fill="#e05848" stroke="#5a1a12" stroke-width="1"/><rect x="1064.5" y="196.5" width="4" height="25" fill="#e05848" stroke="#5a1a12" stroke-width="1"/><rect x="1070.5" y="212.5" width="4" height="9" fill="#6fa585" stroke="#1d5235" stroke-width="1"/><rect x="1076.5" y="212.5" width="4" height="3" fill="#e05848" stroke="#5a1a12" stroke-width="1"/><rect x="1082.5" y="195.5" width="4" height="20" fill="#6fa585" stroke="#1d5235" stroke-width="1"/><rect x="1088.5" y="188.5" width="4" height="6" fill="#6fa585" stroke="#1d5235" stroke-width="1"/><rect x="1094.5" y="168.5" width="4" height="20" fill="#6fa585" stroke="#1d5235" stroke-width="1"/><rect x="1100.5" y="168.5" width="4" height="42" fill="#e05848" stroke="#5a1a12" stroke-width="1"/><rect x="1106.5" y="191.5" width="4" height="18" fill="#6fa585" stroke="#1d5235" stroke-width="1"/><rect x="1111.5" y="188.5" width="4" height="2" fill="#6fa585" stroke="#1d5235" stroke-width="1"/><rect x="1117.5" y="188.5" width="4" height="33" fill="#e05848" stroke="#5a1a12" stroke-width="1"/><rect x="1123.5" y="184.5" width="4" height="37" fill="#6fa585" stroke="#1d5235" stroke-width="1"/><rect x="1129.5" y="184.5" width="4" height="7" fill="#e05848" stroke="#5a1a12" stroke-width="1"/><rect x="1135.5" y="191.5" width="4" height="6" fill="#e05848" stroke="#5a1a12" stroke-width="1"/><rect x="1141.5" y="196.5" width="4" height="20" fill="#e05848" stroke="#5a1a12" stroke-width="1"/><rect x="1147.5" y="216.5" width="4" height="2" fill="#e05848" stroke="#5a1a12" stroke-width="1"/><rect x="1153.5" y="199.5" width="4" height="19" fill="#6fa585" stroke="#1d5235" stroke-width="1"/><rect x="1159.0" y="196" width="5" height="1" fill="#5a1a12"/><rect x="1164.5" y="196.5" width="4" height="12" fill="#e05848" stroke="#5a1a12" stroke-width="1"/><rect x="1170.5" y="206.5" width="4" height="22" fill="#e05848" stroke="#5a1a12" stroke-width="1"/><rect x="1176.5" y="228.5" width="4" height="4" fill="#e05848" stroke="#5a1a12" stroke-width="1"/><rect x="1182.5" y="232.5" width="4" height="27" fill="#e05848" stroke="#5a1a12" stroke-width="1"/><rect x="1188.5" y="249.5" width="4" height="10" fill="#6fa585" stroke="#1d5235" stroke-width="1"/><rect x="1194.5" y="246.5" width="4" height="2" fill="#6fa585" stroke="#1d5235" stroke-width="1"/><rect x="1200.5" y="246.5" width="4" height="13" fill="#e05848" stroke="#5a1a12" stroke-width="1"/><rect x="1206.5" y="259.5" width="4" height="8" fill="#e05848" stroke="#5a1a12" stroke-width="1"/><rect x="1211.0" y="268" width="5" height="1" fill="#5a1a12"/><rect x="1217.5" y="251.5" width="4" height="16" fill="#6fa585" stroke="#1d5235" stroke-width="1"/><rect x="1223.5" y="249.5" width="4" height="2" fill="#6fa585" stroke="#1d5235" stroke-width="1"/><rect x="1229.5" y="242.5" width="4" height="6" fill="#6fa585" stroke="#1d5235" stroke-width="1"/><rect x="1235.5" y="242.5" width="4" height="16" fill="#e05848" stroke="#5a1a12" stroke-width="1"/><rect x="1241.5" y="258.5" width="4" height="5" fill="#e05848" stroke="#5a1a12" stroke-width="1"/><rect x="1247.5" y="242.5" width="4" height="21" fill="#6fa585" stroke="#1d5235" stroke-width="1"/><rect x="1253.0" y="242" width="5" height="1" fill="#5a1a12"/><rect x="1259.5" y="232.5" width="4" height="10" fill="#6fa585" stroke="#1d5235" stroke-width="1"/><rect x="1264.5" y="197.5" width="4" height="35" fill="#6fa585" stroke="#1d5235" stroke-width="1"/><rect x="1270.5" y="192.5" width="4" height="5" fill="#6fa585" stroke="#1d5235" stroke-width="1"/><rect x="1276.5" y="192.5" width="4" height="8" fill="#e05848" stroke="#5a1a12" stroke-width="1"/><rect x="1282.0" y="199" width="5" height="1" fill="#5a1a12"/><rect x="1288.5" y="165.5" width="4" height="36" fill="#6fa585" stroke="#1d5235" stroke-width="1"/><rect x="1294.5" y="165.5" width="4" height="4" fill="#e05848" stroke="#5a1a12" stroke-width="1"/><rect x="1300.5" y="168.5" width="4" height="11" fill="#e05848" stroke="#5a1a12" stroke-width="1"/><rect x="1306.5" y="179.5" width="4" height="12" fill="#e05848" stroke="#5a1a12" stroke-width="1"/><rect x="1311.5" y="190.5" width="4" height="10" fill="#e05848" stroke="#5a1a12" stroke-width="1"/><rect x="1317.5" y="185.5" width="4" height="15" fill="#6fa585" stroke="#1d5235" stroke-width="1"/><rect x="1323.5" y="176.5" width="4" height="9" fill="#6fa585" stroke="#1d5235" stroke-width="1"/><rect x="1329.5" y="174.5" width="4" height="39" fill="#e05848" stroke="#5a1a12" stroke-width="1"/><rect x="1335.5" y="193.5" width="4" height="19" fill="#6fa585" stroke="#1d5235" stroke-width="1"/><rect x="1341.5" y="184.5" width="4" height="9" fill="#6fa585" stroke="#1d5235" stroke-width="1"/><rect x="1347.5" y="184.5" width="4" height="23" fill="#e05848" stroke="#5a1a12" stroke-width="1"/><rect x="1353.5" y="206.5" width="4" height="24" fill="#e05848" stroke="#5a1a12" stroke-width="1"/><rect x="1358.0" y="230" width="5" height="1" fill="#1d5235"/><rect x="1364.5" y="217.5" width="4" height="13" fill="#6fa585" stroke="#1d5235" stroke-width="1"/><rect x="1370.5" y="217.5" width="4" height="12" fill="#e05848" stroke="#5a1a12" stroke-width="1"/>
</g>
<line x1="4" y1="229.5" x2="1434" y2="229.5" stroke="#d9553f" stroke-width="1" stroke-dasharray="1 2" shape-rendering="crispEdges"/>
<path d="M4.3 738.5 L8.5 737.5 L14.5 737.0 L20.5 737.8 L26.5 738.6 L31.5 736.2 L37.5 735.0 L43.5 732.5 L49.5 732.0 L55.5 732.9 L61.5 728.0 L67.5 728.8 L73.5 731.1 L79.5 727.7 L84.5 726.1 L90.5 726.0 L96.5 727.9 L102.5 728.4 L108.5 726.8 L114.5 727.7 L120.5 729.8 L126.5 727.0 L131.5 726.2 L137.5 726.6 L143.5 729.4 L149.5 729.3 L155.5 730.0 L161.5 727.0 L167.5 727.2 L173.5 728.2 L178.5 728.5 L184.5 731.8 L190.5 730.9 L196.5 733.7 L202.5 733.3 L208.5 731.3 L214.5 731.5 L220.5 725.3 L226.5 728.1 L231.5 722.5 L237.5 724.3 L243.5 718.7 L249.5 719.6 L255.5 721.2 L261.5 723.2 L267.5 726.2 L273.5 727.8 L278.5 729.2 L284.5 730.4 L290.5 733.1 L296.5 732.5 L302.5 735.8 L308.5 737.6 L314.5 737.5 L320.5 738.4 L325.5 738.0 L331.5 735.2 L337.5 734.8 L343.5 730.5 L349.5 733.2 L355.5 734.1 L361.5 736.5 L367.5 737.7 L373.5 738.4 L378.5 733.8 L384.5 735.3 L390.5 733.1 L396.5 734.3 L402.5 736.3 L408.5 733.7 L414.5 736.4 L420.5 733.9 L425.5 736.6 L431.5 741.4 L437.5 738.3 L443.5 739.2 L449.5 740.4 L455.5 742.1 L461.5 746.2 L467.5 744.8 L473.5 743.0 L478.5 740.2 L484.5 736.6 L490.5 738.2 L496.5 740.5 L502.5 741.3 L508.5 739.8 L514.5 738.3 L520.5 739.3 L525.5 740.9 L531.5 739.4 L537.5 737.0 L543.5 738.3 L549.5 738.1 L555.5 737.5 L561.5 736.4 L567.5 735.0 L572.5 736.3 L578.5 738.4 L584.5 736.9 L590.5 734.5 L596.5 729.5 L602.5 722.7 L608.5 724.4 L614.5 726.2 L620.5 728.4 L625.5 727.3 L631.5 728.9 L637.5 731.1 L643.5 730.7 L649.5 730.1 L655.5 731.9 L661.5 731.9 L667.5 735.3 L672.5 737.6 L678.5 737.9 L684.5 739.4 L690.5 740.3 L696.5 742.3 L702.5 741.3 L708.5 741.4 L714.5 744.2 L719.5 744.1 L725.5 745.8 L731.5 741.9 L737.5 743.5 L743.5 743.0 L749.5 738.5 L755.5 733.0 L761.5 734.3 L767.5 728.5 L772.5 728.6 L778.5 718.9 L784.5 715.8 L790.5 711.7 L796.5 708.9 L802.5 707.8 L808.5 709.0 L814.5 708.3 L819.5 709.8 L825.5 713.5 L831.5 713.9 L837.5 716.3 L843.5 714.0 L849.5 710.4 L855.5 712.6 L861.5 715.1 L867.5 721.3 L872.5 722.1 L878.5 724.1 L884.5 724.3 L890.5 722.8 L896.5 717.2 L902.5 716.3 L908.5 718.5 L914.5 716.6 L919.5 718.4 L925.5 717.7 L931.5 720.6 L937.5 720.9 L943.5 721.6 L949.5 721.5 L955.5 723.7 L961.5 723.5 L966.5 720.7 L972.5 719.5 L978.5 714.7 L984.5 710.0 L990.5 713.9 L996.5 716.7 L1002.5 717.4 L1008.5 717.5 L1014.5 719.3 L1019.5 722.5 L1025.5 721.8 L1031.5 724.2 L1037.5 722.8 L1043.5 722.3 L1049.5 725.5 L1055.5 726.5 L1061.5 726.2 L1066.5 726.6 L1072.5 728.1 L1078.5 731.7 L1084.5 730.5 L1090.5 731.6 L1096.5 730.6 L1102.5 728.4 L1108.5 728.5 L1113.5 731.7 L1119.5 730.6 L1125.5 729.4 L1131.5 731.5 L1137.5 733.1 L1143.5 731.7 L1149.5 733.0 L1155.5 731.0 L1161.5 733.4 L1166.5 736.3 L1172.5 735.8 L1178.5 736.7 L1184.5 737.1 L1190.5 736.3 L1196.5 738.7 L1202.5 739.3 L1208.5 741.3 L1213.5 741.9 L1219.5 742.1 L1225.5 742.2 L1231.5 744.6 L1237.5 744.5 L1243.5 743.8 L1249.5 743.1 L1255.5 744.4 L1261.5 746.0 L1266.5 744.6 L1272.5 746.8 L1278.5 748.5 L1284.5 749.9 L1290.5 747.5 L1296.5 749.4 L1302.5 749.0 L1308.5 749.5 L1313.5 750.8 L1319.5 751.9 L1325.5 752.6 L1331.5 748.0 L1337.5 748.3 L1343.5 747.9 L1349.5 746.8 L1355.5 746.7 L1360.5 748.9 L1366.5 748.5 L1372.5 750.0" fill="none" stroke="#b71c1c" stroke-width="1.1" stroke-opacity="0.9" stroke-linejoin="round"/>
<path d="M4.0 799.5 L10.0 802.5 L16.0 803.0 L22.0 801.5 L28.0 801.0 L34.0 799.0 L40.0 800.0 L46.0 803.0 L50.0 804.5 L56.0 802.0 L62.0 798.0 L68.0 795.0 L74.0 792.0 L80.0 785.0 L84.0 779.0 L90.0 778.0 L96.0 778.0 L102.0 782.0 L108.0 786.0 L114.0 788.0 L120.0 788.5 L126.5 790.5 L131.5 794.1 L137.5 793.1 L143.5 792.9 L149.5 796.6 L155.5 797.1 L161.5 793.5 L167.5 791.0 L173.5 792.6 L178.5 789.3 L184.5 789.0 L190.5 793.0 L196.5 796.4 L202.5 793.4 L208.5 792.4 L214.5 799.9 L220.5 781.2 L226.5 774.6 L231.5 765.0 L237.5 764.5 L243.5 762.5 L249.5 764.2 L255.5 769.5 L261.5 771.8 L267.5 774.7 L273.5 778.0 L278.5 780.0 L284.5 782.4 L290.5 782.9 L296.5 783.2 L302.5 782.3 L308.5 782.8 L314.5 783.9 L320.5 784.1 L325.5 782.3 L331.5 775.1 L337.5 774.6 L343.5 778.5 L349.5 782.0 L355.5 779.2 L361.5 777.6 L367.5 775.8 L373.5 781.1 L378.5 775.3 L384.5 776.6 L390.5 783.0 L396.5 783.2 L402.5 782.8 L408.5 777.2 L414.5 774.7 L420.5 781.7 L425.5 782.8 L431.5 783.4 L437.5 774.9 L443.5 781.1 L449.5 777.5 L455.5 774.8 L461.5 774.4 L467.5 769.8 L473.5 766.5 L478.5 774.7 L484.5 771.2 L490.5 768.9 L496.5 771.9 L502.5 774.3 L508.5 773.5 L514.5 771.6 L520.5 772.7 L525.5 776.2 L531.5 777.7 L537.5 776.8 L543.5 777.1 L549.5 778.2 L555.5 778.1 L561.5 778.1 L567.5 779.7 L572.5 781.3 L578.5 781.9 L584.5 783.5 L590.5 778.6 L596.5 782.6 L602.5 798.4 L608.5 802.2 L614.5 800.7 L620.5 799.7 L625.5 800.8 L631.5 800.1 L637.5 799.5 L643.5 797.9 L649.5 799.0 L655.5 798.4 L661.5 797.6 L667.5 795.6 L672.5 796.0 L678.5 796.4 L684.5 797.2 L690.5 798.2 L696.5 797.7 L702.5 795.7 L708.5 791.9 L714.5 791.2 L719.5 785.6 L725.5 784.7 L731.5 794.1 L737.5 798.0 L743.5 793.0 L749.5 776.2 L755.5 759.2 L761.5 763.2 L767.5 767.0 L772.5 770.1 L778.5 767.0 L784.5 769.5 L790.5 776.3 L796.5 777.1 L802.5 775.8 L808.5 777.3 L814.5 780.7 L819.5 780.7 L825.5 781.4 L831.5 781.0 L837.5 781.5 L843.5 781.9 L849.5 778.1 L855.5 776.1 L861.5 777.4 L867.5 777.9 L872.5 781.8 L878.5 780.6 L884.5 777.1 L890.5 772.4 L896.5 779.7 L902.5 785.3 L908.5 784.0 L914.5 788.7 L919.5 784.7 L925.5 790.5 L931.5 792.1 L937.5 789.7 L943.5 789.6 L949.5 793.2 L955.5 794.7 L961.5 794.8 L966.5 785.1 L972.5 770.9 L978.5 764.8 L984.5 779.7 L990.5 781.2 L996.5 779.0 L1002.5 778.9 L1008.5 782.1 L1014.5 785.9 L1019.5 784.9 L1025.5 791.3 L1031.5 796.1 L1037.5 800.6 L1043.5 797.7 L1049.5 796.8 L1055.5 797.3 L1061.5 797.0 L1066.5 800.3 L1072.5 799.1 L1078.5 798.2 L1084.5 795.7 L1090.5 792.7 L1096.5 790.8 L1102.5 793.0 L1108.5 793.7 L1113.5 791.6 L1119.5 795.0 L1125.5 791.4 L1131.5 788.5 L1137.5 790.8 L1143.5 794.1 L1149.5 796.6 L1155.5 796.0 L1161.5 785.8 L1166.5 791.5 L1172.5 800.2 L1178.5 806.6 L1184.5 809.7 L1190.5 804.5 L1196.5 800.6 L1202.5 801.3 L1208.5 802.3 L1213.5 801.6 L1219.5 796.6 L1225.5 793.5 L1231.5 791.3 L1237.5 792.5 L1243.5 794.5 L1249.5 790.3 L1255.5 790.6 L1261.5 785.1 L1266.5 776.0 L1272.5 772.4 L1278.5 773.3 L1284.5 775.0 L1290.5 769.5 L1296.5 772.2 L1302.5 775.3 L1308.5 779.6 L1313.5 781.7 L1319.5 781.8 L1325.5 779.8 L1331.5 784.2 L1337.5 784.7 L1343.5 782.8 L1349.5 787.2 L1355.5 793.0 L1360.5 797.3 L1366.5 796.3 L1372.5 797.6" fill="none" stroke="#2962ff" stroke-width="1.1" stroke-opacity="0.9" stroke-linejoin="round"/>
<rect x="1434.5" y="2" width="63.5" height="811" fill="#fff"/>
<path d="M1434.5 2 H1494 Q1498 2 1498 6 V813 H1434.5 Z" fill="#fff"/>
<g stroke="#e0e3eb" stroke-width="1.6"><line x1="1434" y1="704.3" x2="1498" y2="704.3"/><line x1="1434" y1="755.3" x2="1498" y2="755.3"/></g>
<g stroke="#555557" stroke-width="1" shape-rendering="crispEdges"><line x1="1434.5" y1="43" x2="1434.5" y2="841"/><line x1="4" y1="813.5" x2="1498" y2="813.5"/></g>
<g font-size="12" fill="#505155" text-anchor="middle">
<text x="79.5" y="831">Oct</text>
<text x="202.5" y="831">Nov</text>
<text x="331.5" y="831">Dec</text>
<text x="461.5" y="831" font-weight="bold" fill="#2a2e39">2023</text>
<text x="590.5" y="831">Feb</text>
<text x="708.5" y="831">Mar</text>
<text x="843.5" y="831">Apr</text>
<text x="961.5" y="831">May</text>
<text x="1096.5" y="831">Jun</text>
<text x="1225.5" y="831">Jul</text>
<text x="1349.5" y="831">Aug</text>
</g>
<g font-size="11.8" fill="#505155">
<text x="1443" y="103.9" textLength="40.6" lengthAdjust="spacingAndGlyphs">2025.00</text>
<text x="1443" y="139.9" textLength="40.6" lengthAdjust="spacingAndGlyphs">2000.00</text>
<text x="1443" y="175.9" textLength="40.6" lengthAdjust="spacingAndGlyphs">1975.00</text>
<text x="1443" y="211.9" textLength="40.6" lengthAdjust="spacingAndGlyphs">1950.00</text>
<text x="1443" y="246.9" textLength="40.6" lengthAdjust="spacingAndGlyphs">1925.00</text>
<text x="1443" y="282.9" textLength="40.6" lengthAdjust="spacingAndGlyphs">1900.00</text>
<text x="1443" y="318.9" textLength="40.6" lengthAdjust="spacingAndGlyphs">1875.00</text>
<text x="1443" y="354.9" textLength="40.6" lengthAdjust="spacingAndGlyphs">1850.00</text>
<text x="1443" y="390.9" textLength="40.6" lengthAdjust="spacingAndGlyphs">1825.00</text>
<text x="1443" y="426.9" textLength="40.6" lengthAdjust="spacingAndGlyphs">1800.00</text>
<text x="1443" y="462.9" textLength="40.6" lengthAdjust="spacingAndGlyphs">1775.00</text>
<text x="1443" y="498.9" textLength="40.6" lengthAdjust="spacingAndGlyphs">1750.00</text>
<text x="1443" y="534.9" textLength="40.6" lengthAdjust="spacingAndGlyphs">1725.00</text>
<text x="1443" y="570.9" textLength="40.6" lengthAdjust="spacingAndGlyphs">1700.00</text>
<text x="1443" y="605.9" textLength="40.6" lengthAdjust="spacingAndGlyphs">1675.00</text>
<text x="1443" y="641.9" textLength="40.6" lengthAdjust="spacingAndGlyphs">1650.00</text>
<text x="1443" y="677.9" textLength="40.6" lengthAdjust="spacingAndGlyphs">1625.00</text>
<text x="1443" y="721.2" textLength="29.5" lengthAdjust="spacingAndGlyphs">30.00</text>
<text x="1443" y="751.4" textLength="29.5" lengthAdjust="spacingAndGlyphs">20.00</text>
<text x="1443" y="791.3" textLength="23" lengthAdjust="spacingAndGlyphs">0.00</text>
</g>
<path d="M1434.5 26.0 H1488.0 q2 0 2 2 v13 q0 2 -2 2 H1434.5 Z" fill="#000"/>
<text x="1442.8" y="38.8" font-size="11.8" font-weight="bold" fill="#fff" textLength="41" lengthAdjust="spacingAndGlyphs">2070.42</text>
<path d="M1434.5 57.0 H1488.0 q2 0 2 2 v13 q0 2 -2 2 H1434.5 Z" fill="#000"/>
<text x="1442.8" y="69.8" font-size="11.8" font-weight="bold" fill="#fff" textLength="41" lengthAdjust="spacingAndGlyphs">2048.79</text>
<path d="M1434.5 81.0 H1488.0 q2 0 2 2 v13 q0 2 -2 2 H1434.5 Z" fill="#000"/>
<text x="1442.8" y="93.8" font-size="11.8" font-weight="bold" fill="#fff" textLength="41" lengthAdjust="spacingAndGlyphs">2032.13</text>
<path d="M1434.5 113.0 H1488.0 q2 0 2 2 v13 q0 2 -2 2 H1434.5 Z" fill="#000"/>
<text x="1442.8" y="125.8" font-size="11.8" font-weight="bold" fill="#fff" textLength="41" lengthAdjust="spacingAndGlyphs">2009.75</text>
<path d="M1434.5 185.0 H1488.0 q2 0 2 2 v13 q0 2 -2 2 H1434.5 Z" fill="#000"/>
<text x="1442.8" y="197.8" font-size="11.8" font-weight="bold" fill="#fff" textLength="41" lengthAdjust="spacingAndGlyphs">1959.74</text>
<path d="M1434.5 204.0 H1488.0 q2 0 2 2 v13 q0 2 -2 2 H1434.5 Z" fill="#000"/>
<text x="1442.8" y="216.8" font-size="11.8" font-weight="bold" fill="#fff" textLength="41" lengthAdjust="spacingAndGlyphs">1939.56</text>
<path d="M1434.5 238.0 H1488.0 q2 0 2 2 v13 q0 2 -2 2 H1434.5 Z" fill="#000"/>
<text x="1442.8" y="250.8" font-size="11.8" font-weight="bold" fill="#fff" textLength="41" lengthAdjust="spacingAndGlyphs">1932.49</text>
<path d="M1434.5 407.0 H1488.0 q2 0 2 2 v13 q0 2 -2 2 H1434.5 Z" fill="#000"/>
<text x="1442.8" y="419.8" font-size="11.8" font-weight="bold" fill="#fff" textLength="41" lengthAdjust="spacingAndGlyphs">1804.78</text>
<path d="M1434.5 679.0 H1488.0 q2 0 2 2 v13 q0 2 -2 2 H1434.5 Z" fill="#000"/>
<text x="1442.8" y="691.8" font-size="11.8" font-weight="bold" fill="#fff" textLength="41" lengthAdjust="spacingAndGlyphs">1615.67</text>
<path d="M1434.5 221 H1492 q2 0 2 2 v13 q0 2 -2 2 H1434.5 Z" fill="#dc5a46"/>
<text x="1442.8" y="233.8" font-size="11.8" fill="#f9d8d2" font-weight="bold" textLength="45" lengthAdjust="spacingAndGlyphs">10:48:11</text>
<rect x="1434" y="2" width="62" height="34" fill="#fff"/>
<rect x="1438.5" y="5.5" width="54" height="26" rx="4" fill="#fff" stroke="#e0e3eb" stroke-width="1"/>
<text x="1443" y="23" font-size="12.5" fill="#131722" textLength="23" lengthAdjust="spacingAndGlyphs">USD</text>
<path d="M1483.6 17.4 l2.9 2.9 l2.9 -2.9" fill="none" stroke="#131722" stroke-width="1.3"/>
<g font-size="12" text-anchor="start">
<text x="3.8" y="11.0" fill="#787b86" textLength="48.5" lengthAdjust="spacingAndGlyphs">(2081.82)</text>
<text x="3.8" y="169.0" fill="#f23645" textLength="48.5" lengthAdjust="spacingAndGlyphs">(1971.63)</text>
<text x="3.8" y="267.0" fill="#ff9800" textLength="48.5" lengthAdjust="spacingAndGlyphs">(1903.46)</text>
<text x="3.8" y="347.0" fill="#4caf50" textLength="48.5" lengthAdjust="spacingAndGlyphs">(1848.37)</text>
<text x="3.8" y="426.0" fill="#089981" textLength="48.5" lengthAdjust="spacingAndGlyphs">(1793.28)</text>
<text x="3.8" y="538.0" fill="#00bcd4" textLength="48.5" lengthAdjust="spacingAndGlyphs">(1714.84)</text>
<text x="3.8" y="682.0" fill="#787b86" textLength="48.5" lengthAdjust="spacingAndGlyphs">(1614.92)</text>
</g>
<g fill="#fff" fill-opacity="0.5">
<rect x="8" y="6" width="655" height="23.5"/>
<rect x="8" y="29.5" width="159" height="32.5"/>
<rect x="8" y="62" width="563" height="24"/>
<rect x="8" y="712" width="116" height="20"/>
<rect x="8" y="763" width="167" height="20"/>
</g>
<circle cx="21.95" cy="17.95" r="9.05" fill="#d39b0b"/>
<g fill="#fff"><path d="M20.3 14.1 H23.8 L25 17.1 H19.2 Z"/><path d="M17.3 18.1 H20.8 L21.9 21.1 H15.7 Z"/><path d="M23.4 18.1 H26.8 L28.6 21.1 H22.2 Z"/></g>
<text x="35.5" y="23.3" font-size="14.8" fill="#3a3d46" textLength="244.5" lengthAdjust="spacingAndGlyphs">CFDs on Gold (US$ / OZ) · 1D · TVC</text>
<circle cx="304" cy="18" r="8" fill="#089981" fill-opacity="0.18"/><circle cx="304" cy="18" r="3.6" fill="#089981"/>
<g font-size="12.5" fill="#80231c">
<text x="330.0" y="24" textLength="7.0" lengthAdjust="spacingAndGlyphs" fill="#555">O</text>
<text x="338.7" y="24" textLength="45.8" lengthAdjust="spacingAndGlyphs">1942.69</text>
<text x="391.0" y="24" textLength="7.0" lengthAdjust="spacingAndGlyphs" fill="#555">H</text>
<text x="399.0" y="24" textLength="46.0" lengthAdjust="spacingAndGlyphs">1946.73</text>
<text x="453.0" y="24" textLength="6.0" lengthAdjust="spacingAndGlyphs" fill="#555">L</text>
<text x="461.0" y="24" textLength="44.0" lengthAdjust="spacingAndGlyphs">1933.50</text>
<text x="512.0" y="24" textLength="8.0" lengthAdjust="spacingAndGlyphs" fill="#555">C</text>
<text x="521.0" y="24" textLength="45.0" lengthAdjust="spacingAndGlyphs">1934.67</text>
<text x="573.0" y="24" textLength="31.0" lengthAdjust="spacingAndGlyphs">−8.03</text>
<text x="609.0" y="24" textLength="48.0" lengthAdjust="spacingAndGlyphs">(−0.41%)</text>
</g>
<rect x="12.6" y="34.8" width="60.6" height="22.4" rx="3.5" fill="#fff" stroke="#f23645" stroke-width="1.1"/>
<text x="20.5" y="50.8" font-size="12.4" fill="#f23645" textLength="44.4" lengthAdjust="spacingAndGlyphs">1934.67</text>
<text x="81.8" y="49.7" font-size="10.8" fill="#131722" textLength="11" lengthAdjust="spacingAndGlyphs">23</text>
<rect x="101.6" y="34.8" width="60.6" height="22.4" rx="3.5" fill="#fff" stroke="#2962ff" stroke-width="1.1"/>
<text x="109.5" y="50.8" font-size="12.4" fill="#2962ff" textLength="44.4" lengthAdjust="spacingAndGlyphs">1934.89</text>
<text x="13" y="78.5" font-size="12.5" fill="#505155" textLength="384" lengthAdjust="spacingAndGlyphs">MA Ribbon SMA close 20 SMA close 50 SMA close 100 SMA close 200</text>
<text x="405" y="78.5" font-size="12.5" fill="#f23645" textLength="45" lengthAdjust="spacingAndGlyphs">1954.92</text>
<text x="458" y="78.5" font-size="12.5" fill="#2962ff" textLength="44" lengthAdjust="spacingAndGlyphs">1944.61</text>
<text x="509" y="78.5" font-size="12" fill="#131722">∅</text>
<text x="523" y="78.5" font-size="12.5" fill="#131722" textLength="45" lengthAdjust="spacingAndGlyphs">1897.86</text>
<rect x="13.5" y="88.5" width="27.5" height="19.5" rx="3" fill="#fff" stroke="#d5d8e0" stroke-width="1"/>
<path d="M23 100.5 l4.3 -4 l4.3 4" fill="none" stroke="#131722" stroke-width="1.3"/>
<text x="13" y="725.7" font-size="12.5" fill="#505155" textLength="67" lengthAdjust="spacingAndGlyphs">ATR 14 RMA</text>
<text x="90" y="725.7" font-size="12.5" fill="#b71c1c" textLength="31" lengthAdjust="spacingAndGlyphs">19.35</text>
<text x="13" y="776.8" font-size="12.5" fill="#505155" textLength="102" lengthAdjust="spacingAndGlyphs">CCI 20 hlc3 SMA 5</text>
<text x="124" y="776.8" font-size="12.5" fill="#2962ff" textLength="45" lengthAdjust="spacingAndGlyphs">−108.84</text>
<g fill="#131722"><path d="M16 784 H31.3 V798.8 H22 V790 H16 Z"/><circle cx="33.6" cy="787.1" r="2.7"/><path d="M38.3 784 H46 L40 798.8 H32.6 Z"/></g>
<g fill="none" stroke="#2f3241" stroke-width="1.25" stroke-linejoin="round"><path d="M1459.9 828 L1463.3 821.8 H1470.5 L1473.9 828 L1470.5 834.2 H1463.3 Z"/><circle cx="1466.9" cy="828" r="2.1"/></g>
</svg></body></html>
